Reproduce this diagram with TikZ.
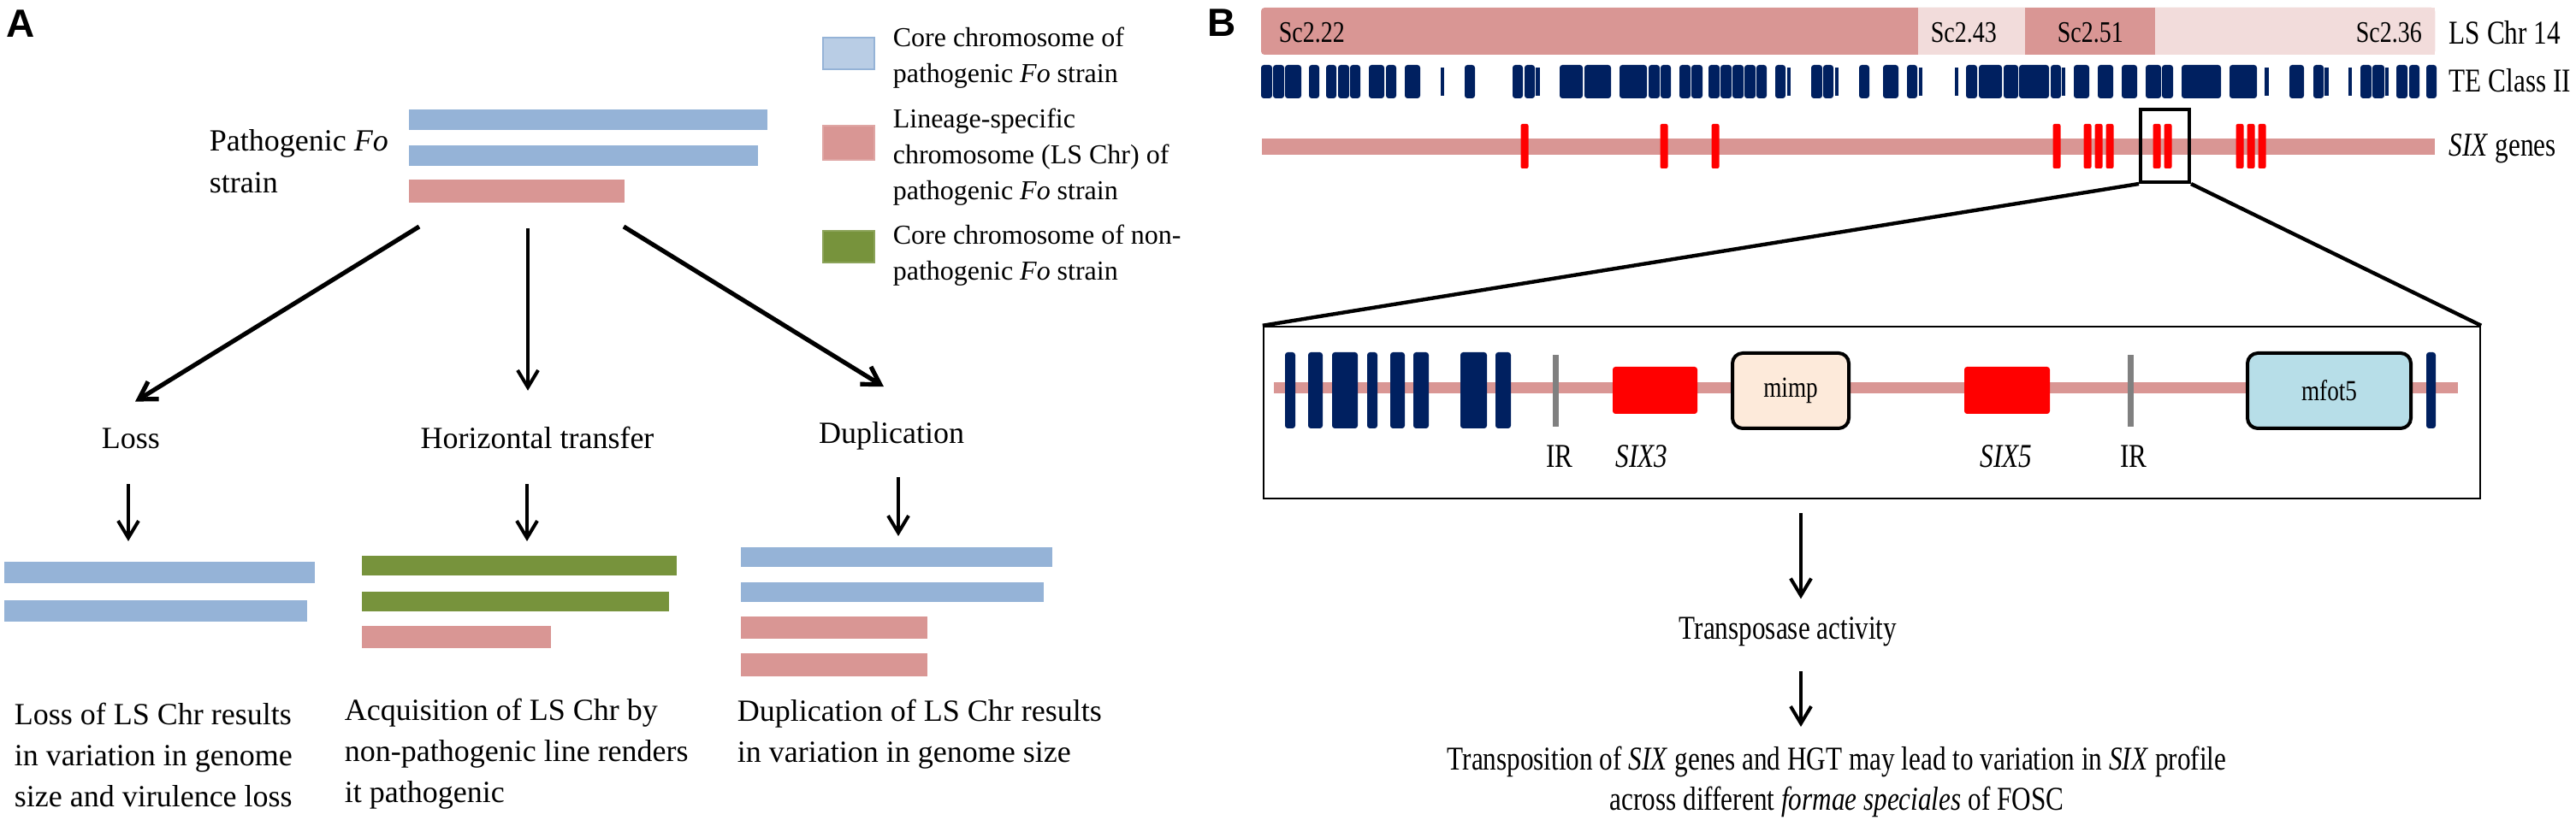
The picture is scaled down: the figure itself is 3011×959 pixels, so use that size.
\documentclass[tikz,border=0pt]{standalone}
\usepackage{fontspec}
\setmainfont{Liberation Serif}
\setsansfont{Liberation Sans}
\newfontfamily\narrowserif[FakeStretch=0.8]{Liberation Serif}
\usetikzlibrary{arrows.meta, positioning, calc}

\definecolor{coreblue}{HTML}{95B3D7}
\definecolor{legblue}{HTML}{B9CDE5}
\definecolor{lspink}{HTML}{D99694}
\definecolor{lslight}{HTML}{F2DCDB}
\definecolor{npgreen}{HTML}{77933C}
\definecolor{tenavy}{HTML}{002060}
\definecolor{sixred}{HTML}{FF0000}
\definecolor{irgray}{HTML}{808080}
\definecolor{mimpfill}{HTML}{FDEADA}
\definecolor{mfotfill}{HTML}{B7DEE8}

\begin{document}
\begin{tikzpicture}[x=0.25pt, y=-0.25pt,
  arr/.style={-{Straight Barb[length=5pt,width=6pt]}, line width=1pt},
  txtA/.style={inner sep=0pt, font=\fontsize{9}{12}\selectfont},
  legtxt/.style={inner sep=0pt, anchor=north west, align=left, font=\fontsize{8}{10.5}\selectfont},
  txtB/.style={inner sep=0pt, font=\narrowserif\fontsize{9.75}{11.75}\selectfont},
  panel/.style={inner sep=0pt, font=\sffamily\bfseries\fontsize{11.5}{12}\selectfont},
  te/.style={fill=tenavy, rounded corners=0.8pt},
  element/.style={draw, line width=1pt, rounded corners=3pt, inner sep=0pt,
    minimum height=22pt, font=\narrowserif\fontsize{8.5}{10}\selectfont}]
  \useasboundingbox (0,0) rectangle (3011,959);

  % Panel A
  \node[panel] (labA) at (24,28) {A};

  % pathogenic strain
  \node[txtA, anchor=north west, align=left, font=\fontsize{9}{12.25}\selectfont] (patho) at (244,151) {Pathogenic \textit{Fo}\\strain};
  \fill[coreblue] (478,128) rectangle (897,152);
  \fill[coreblue] (478,170) rectangle (886,194);
  \fill[lspink] (478,210) rectangle (730,237);

  % legend
  \filldraw[fill=legblue, draw=coreblue, line width=0.6pt] (962,44) rectangle (1022,81);
  \filldraw[fill=lspink, draw=lspink!85!white, line width=0.6pt] (962,147) rectangle (1022,187);
  \filldraw[fill=npgreen, draw=npgreen!85!white, line width=0.6pt] (962,270) rectangle (1022,307);
  \node[legtxt] (legcore) at (1043,31) {Core chromosome of\\pathogenic \textit{Fo} strain};
  \node[legtxt] (legls) at (1043,126) {Lineage-specific\\chromosome (LS Chr) of\\pathogenic \textit{Fo} strain};
  \node[legtxt] (legnp) at (1043,262) {Core chromosome of non-\\pathogenic \textit{Fo} strain};

  % three outcomes
  \node[txtA, anchor=base] (loss) at (153,525) {Loss};
  \node[txtA, anchor=base] (htrans) at (628,525) {Horizontal transfer};
  \node[txtA, anchor=base] (dupl) at (1042,519) {Duplication};

  \coordinate (outL) at (490,265);
  \coordinate (outM) at (617,267);
  \coordinate (outR) at (729,265);
  \draw[arr, line width=1.3pt] (outL) -- ([xshift=1.25pt, yshift=7.75pt]loss.north);
  \draw[arr] (outM) -- ([xshift=-2.75pt, yshift=10.5pt]htrans.north);
  \draw[arr, line width=1.3pt] (outR) -- ([xshift=-2.25pt, yshift=10.25pt]dupl.north);

  \coordinate (lossin) at (150,657);
  \coordinate (htin) at (616,650);
  \coordinate (dupin) at (1050,640);
  \draw[arr, shorten <=10pt, shorten >=6pt] (lossin |- loss.south) -- (lossin);
  \draw[arr, shorten <=10pt, shorten >=4.25pt] (htin |- htrans.south) -- (htin);
  \draw[arr, shorten <=7.75pt, shorten >=3.25pt] (dupin |- dupl.south) -- (dupin);

  % loss
  \fill[coreblue] (5,657) rectangle (368,682);
  \fill[coreblue] (5,702) rectangle (359,727);
  % horizontal transfer
  \fill[npgreen] (423,650) rectangle (791,673);
  \fill[npgreen] (423,692) rectangle (782,715);
  \fill[lspink] (423,732) rectangle (644,758);
  % duplication
  \fill[coreblue] (866,640) rectangle (1230,663);
  \fill[coreblue] (866,681) rectangle (1220,704);
  \fill[lspink] (866,721) rectangle (1084,747);
  \fill[lspink] (866,764) rectangle (1084,791);

  \node[txtA, anchor=north west, align=left] (lossres) at (16,821) {Loss of LS Chr results\\in variation in genome\\size and virulence loss};
  \node[txtA, anchor=north west, align=left] (htres) at (402,816) {Acquisition of LS Chr by\\non-pathogenic line renders\\it pathogenic};
  \node[txtA, anchor=north west, align=left] (dupres) at (861,817) {Duplication of LS Chr results\\in variation in genome size};

  % Panel B
  \node[panel] (labB) at (1428,27) {B};

  % LS Chr 14 scaffolds
  \fill[lspink, rounded corners=1pt] (1474,9) rectangle (2846,64);
  \fill[lslight] (2242,9) rectangle (2367,64);
  \fill[lslight] (2519,9) rectangle (2846,64);
  \foreach \x/\sc in {1494/2.22, 2256/2.43, 2404/2.51, 2753/2.36}
    \node[txtB, anchor=base west, font=\narrowserif\fontsize{8.75}{10}\selectfont] (sc\x) at (\x,50) {Sc\sc};

  % TE class II track
  \foreach \a/\b in {1474/1487, 1488/1501, 1502/1521, 1530/1542, 1550/1562, 1564/1577,
      1578/1590, 1600/1618, 1620/1632, 1642/1660, 1712/1724, 1768/1780, 1782/1794,
      1823/1850, 1852/1883, 1893/1925, 1927/1940, 1941/1953, 1963/1976, 1977/1990,
      1997/2010, 2011/2024, 2025/2038, 2039/2052, 2053/2065, 2075/2087, 2117/2130,
      2131/2143, 2173/2185, 2201/2219, 2229/2241, 2298/2311, 2313/2340, 2342/2359,
      2360/2395, 2397/2409, 2424/2442, 2452/2470, 2480/2498, 2508/2526, 2527/2540,
      2550/2596, 2606/2638, 2676/2693, 2704/2716, 2759/2772, 2773/2787, 2801/2814,
      2816/2828, 2836/2848}
    \fill[te] (\a,76) rectangle (\b,115);
  \foreach \a/\b in {1684/1688, 1795/1800, 2089/2093, 2145/2149, 2243/2247, 2285/2289,
      2410/2414, 2647/2652, 2717/2722, 2745/2749, 2788/2792}
    \fill[tenavy] (\a,79) rectangle (\b,112);

  % SIX genes track
  \fill[lspink] (1475,162) rectangle (2846,181);
  \foreach \x in {1782, 1945, 2005, 2404, 2440, 2453, 2466, 2521, 2534, 2618, 2631, 2644}
    \fill[sixred, rounded corners=0.5pt] (\x-4.5,145) rectangle (\x+4.5,197);

  \node[txtB, anchor=base west] (lschr) at (2862,52) {LS Chr 14};
  \node[txtB, anchor=base west] (teclass) at (2862,108) {TE Class II};
  \node[txtB, anchor=base west] (sixgenes) at (2862,183) {\textit{SIX} genes};

  % zoomed region
  \node[draw, line width=1pt, inner sep=0pt, minimum width=14.25pt, minimum height=21.25pt] (sel) at (2530.5,170.5) {};
  \node[draw, line width=0.6pt, inner sep=0pt, minimum width=355.5pt, minimum height=50.25pt] (zoombox) at (2188,482.5) {};
  \draw[line width=1.1pt] (sel.south west) -- (zoombox.north west);
  \draw[line width=1.1pt] (sel.south east) -- (zoombox.north east);

  \fill[lspink] (1489,447) rectangle (2873,460);
  \foreach \a/\b in {1502/1514, 1529/1546, 1557/1587, 1598/1610, 1625/1642, 1652/1670,
      1707/1738, 1748/1766, 2836/2847}
    \fill[te] (\a,412) rectangle (\b,501);
  \fill[irgray] (1815,415) rectangle (1822,499);
  \fill[irgray] (2487,415) rectangle (2494,499);
  \fill[sixred, rounded corners=0.8pt] (1885,429) rectangle (1984,484);
  \fill[sixred, rounded corners=0.8pt] (2296,429) rectangle (2396,484);
  \node[element, fill=mimpfill, minimum width=34pt] (mimp) at (2093,457) {mimp};
  \node[element, fill=mfotfill, minimum width=47.75pt] (mfot) at (2722.5,457) {mfot5};

  \node[txtB, anchor=base] (irL) at (1823,547) {IR};
  \node[txtB, anchor=base] (six3) at (1919,547) {\textit{SIX3}};
  \node[txtB, anchor=base] (six5) at (2345,547) {\textit{SIX5}};
  \node[txtB, anchor=base] (irR) at (2494,547) {IR};

  % consequences
  \node[txtB, anchor=base] (transp) at (2090,748) {Transposase activity};
  \node[txtB, anchor=north, align=center] (fosc) at (2147,872) {Transposition of \textit{SIX} genes and HGT may lead to variation in \textit{SIX} profile\\across different \textit{formae speciales} of FOSC};
  \coordinate (boxout) at (2105,583);
  \draw[arr, shorten <=4.25pt, shorten >=5.25pt] (boxout) -- (boxout |- transp.north);
  \draw[arr, shorten <=7pt, shorten >=5.5pt] (boxout |- transp.south) -- (boxout |- fosc.north);
\end{tikzpicture}
\end{document}
